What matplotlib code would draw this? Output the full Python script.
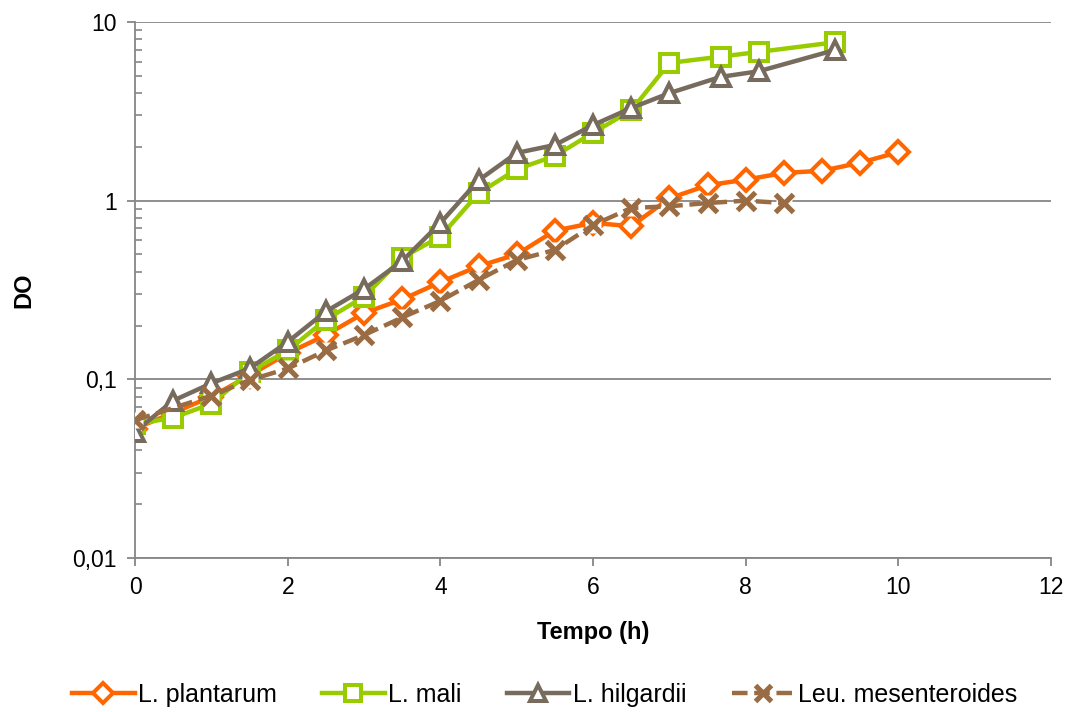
import numpy as np
import matplotlib.pyplot as plt
from matplotlib.ticker import FixedLocator, FuncFormatter, LogLocator, NullFormatter

plt.rcParams['font.family'] = ['Liberation Sans', 'DejaVu Sans']

# time points (h) and optical density for each strain
t_plantarum = [0, 0.5, 1, 1.5, 2, 2.5, 3, 3.5, 4, 4.5, 5, 5.5, 6, 6.5, 7, 7.5, 8, 8.5, 9, 9.5, 10]
do_plantarum = [0.053, 0.065, 0.08, 0.105, 0.14, 0.177, 0.235, 0.28, 0.35, 0.43, 0.5, 0.68, 0.75, 0.72,
                1.03, 1.22, 1.31, 1.43, 1.47, 1.63, 1.87]

t_mali = [0, 0.5, 1, 1.5, 2, 2.5, 3, 3.5, 4, 4.5, 5, 5.5, 6, 6.5, 7, 7.67, 8.17, 9.17]
do_mali = [0.056, 0.061, 0.073, 0.11, 0.145, 0.216, 0.29, 0.48, 0.63, 1.1, 1.5, 1.78, 2.4, 3.2,
           5.9, 6.4, 6.8, 7.7]

t_hilgardii = [0, 0.5, 1, 1.5, 2, 2.5, 3, 3.5, 4, 4.5, 5, 5.5, 6, 6.5, 7, 7.67, 8.17, 9.17]
do_hilgardii = [0.051, 0.076, 0.095, 0.115, 0.162, 0.24, 0.32, 0.46, 0.75, 1.3, 1.85, 2.05, 2.65, 3.3,
                4.0, 4.93, 5.3, 6.97]

t_leu = [0, 1, 1.5, 2, 2.5, 3, 3.5, 4, 4.5, 5, 5.5, 6, 6.5, 7, 7.5, 8, 8.5]
do_leu = [0.059, 0.081, 0.099, 0.115, 0.145, 0.177, 0.222, 0.275, 0.36, 0.465, 0.53, 0.73, 0.91,
          0.93, 0.97, 1.0, 0.97]

fig = plt.figure(figsize=(10.72, 7.12), dpi=100)
ax = fig.add_axes([0.126, 0.2163, 0.8545, 0.7528])

lw = 3.2
ms = 13.5
mew = 2.9
ax.plot(t_plantarum, do_plantarum, color='#FF6600', lw=lw, marker='D', ms=ms * 0.8,
        mfc='white', mec='#FF6600', mew=mew, label='L. plantarum', zorder=3)
ax.plot(t_mali, do_mali, color='#99CC00', lw=lw, marker='s', ms=ms,
        mfc='white', mec='#99CC00', mew=mew, label='L. mali', zorder=4)
ax.plot(t_hilgardii, do_hilgardii, color='#766B5D', lw=lw, marker='^', ms=ms,
        mfc='white', mec='#766B5D', mew=mew, label='L. hilgardii', zorder=5)
# white box behind the x markers, as in the original
ax.plot(t_leu, do_leu, ls='none', marker='s', ms=ms * 0.9, mfc='white', mec='none', zorder=6)
ax.plot(t_leu, do_leu, color='#9A6C44', lw=lw, ls=(0, (3.5, 1.5)), marker='x', ms=ms,
        mec='#9A6C44', mew=3.7, label='Leu. mesenteroides', zorder=7)

ax.set_yscale('log')
ax.set_ylim(0.01, 10)
ax.set_xlim(0, 12)
ax.xaxis.set_major_locator(FixedLocator(np.arange(0, 13, 2)))
ax.yaxis.set_major_locator(FixedLocator([0.01, 0.1, 1, 10]))
ax.yaxis.set_major_formatter(FuncFormatter(lambda v, _: ('%g' % v).replace('.', ',')))
ax.yaxis.set_minor_locator(LogLocator(base=10, subs=np.arange(2, 10)))
ax.yaxis.set_minor_formatter(NullFormatter())

ax.grid(axis='y', which='major', color='#868686', lw=1.3)
ax.set_axisbelow(True)
for s in ['top', 'right']:
    ax.spines[s].set_visible(False)
for s in ['left', 'bottom']:
    ax.spines[s].set_color('#868686')
    ax.spines[s].set_linewidth(1.3)

ax.tick_params(axis='both', which='major', direction='out', length=6, width=1.3,
               color='#868686', labelsize=16.5, pad=7)
ax.tick_params(axis='y', which='minor', direction='in', length=5, width=1.2, color='#868686')

ax.set_xlabel('Tempo (h)', fontsize=17, fontweight='bold', labelpad=16)
ax.set_ylabel('DO', fontsize=17, fontweight='bold', labelpad=27)

fig.legend(loc='center', bbox_to_anchor=(0.508, 0.024), ncol=4, frameon=False, fontsize=18,
           handlelength=2.5, handletextpad=0.15, columnspacing=1.8, markerscale=0.9)

fig.savefig('out.png', dpi=100)
